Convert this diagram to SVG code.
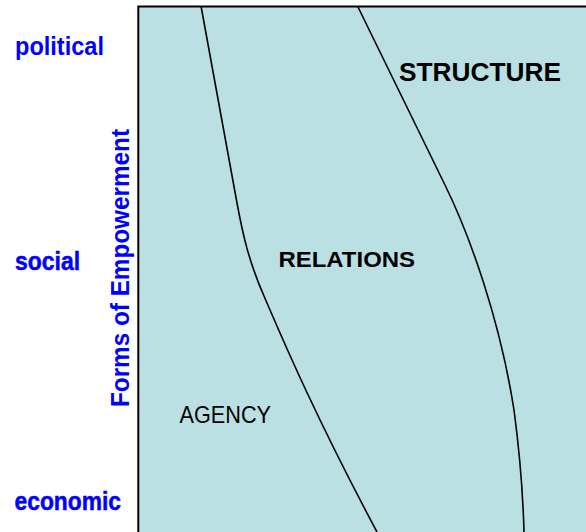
<svg xmlns="http://www.w3.org/2000/svg" width="586" height="532" viewBox="0 0 586 532">
  <style>
    .axis { font-family: "Liberation Sans", Arial, sans-serif; font-weight: bold; fill: #0000FF; font-size: 25px; }
    .narrow { font-family: "Liberation Sans Narrow", "Liberation Sans", Arial, sans-serif; }
    .heavy { stroke: #0000FF; stroke-width: 0.5; }
    .zone { font-family: "Liberation Sans", Arial, sans-serif; fill: #000; }
    .divider { fill: none; stroke: #000; stroke-width: 1.6; }
  </style>

  <!-- field -->
  <g id="field">
    <rect x="138" y="6" width="448" height="526" fill="#BAE0E3"/>
    <path d="M138.3,532 V6.5 H586" fill="none" stroke="#000" stroke-width="2"/>
  </g>

  <!-- level labels on the left -->
  <g id="level-political">
    <text class="axis" x="15" y="55" textLength="89" lengthAdjust="spacingAndGlyphs">political</text>
  </g>
  <g id="level-social">
    <text class="axis narrow heavy" x="15" y="270" textLength="65" lengthAdjust="spacingAndGlyphs">social</text>
  </g>
  <g id="level-economic">
    <text class="axis narrow heavy" x="14.5" y="510" font-size="27" textLength="106.5" lengthAdjust="spacingAndGlyphs">economic</text>
  </g>
  <g id="axis-title">
    <text class="axis narrow" transform="translate(128.5,407) rotate(-90)" x="0" y="0" font-size="26" textLength="278" lengthAdjust="spacingAndGlyphs">Forms of Empowerment</text>
  </g>

  <!-- boundaries between zones -->
  <g id="connectors">
    <path class="divider" d="M201,6 L237,203 C242,230 248,260 264,296 C280,333 312,410 377,532"/>
    <path class="divider" d="M357.5,6 L445,185 C470,236 500,320 514,410 C520,455 523,495 524,532"/>
  </g>

  <!-- zone labels -->
  <g id="zone-structure">
    <text class="zone" x="399" y="81" font-size="25" font-weight="bold" textLength="162" lengthAdjust="spacingAndGlyphs">STRUCTURE</text>
  </g>
  <g id="zone-relations">
    <text class="zone" x="278.5" y="266.5" font-size="22" font-weight="bold" textLength="136.5" lengthAdjust="spacingAndGlyphs">RELATIONS</text>
  </g>
  <g id="zone-agency">
    <text class="zone narrow" x="179.5" y="422.5" font-size="24.5" textLength="91.5" lengthAdjust="spacingAndGlyphs">AGENCY</text>
  </g>
</svg>
